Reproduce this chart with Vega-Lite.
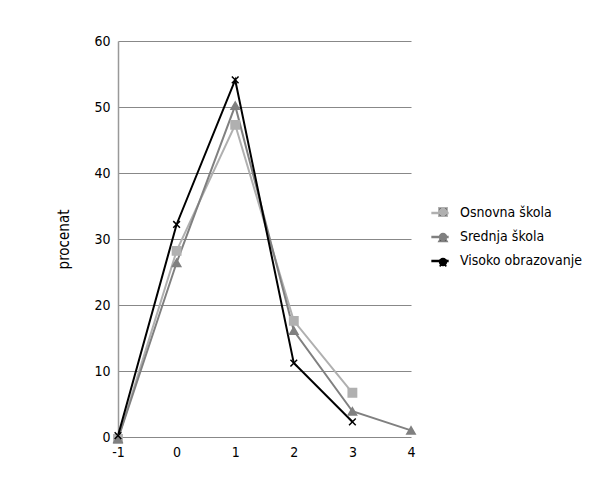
{
  "$schema": "https://vega.github.io/schema/vega-lite/v6.json",
  "width": 293,
  "height": 396,
  "autosize": {"type": "none"},
  "padding": {"left": 118, "top": 41, "right": 202, "bottom": 59},
  "background": "white",
  "config": {
    "view": {"stroke": null},
    "font": "DejaVu Sans Condensed, Liberation Sans, sans-serif",
    "axis": {"labelFont": "DejaVu Sans Condensed, Liberation Sans, sans-serif", "titleFont": "DejaVu Sans Condensed, Liberation Sans, sans-serif", "labelColor": "#000", "titleColor": "#000"},
    "legend": {"labelFont": "DejaVu Sans Condensed, Liberation Sans, sans-serif", "labelColor": "#000"}
  },
  "data": {
    "values": [
      {"x": -1, "procenat": -0.3, "grupa": "Osnovna škola"},
      {"x": 0, "procenat": 28.2, "grupa": "Osnovna škola"},
      {"x": 1, "procenat": 47.3, "grupa": "Osnovna škola"},
      {"x": 2, "procenat": 17.6, "grupa": "Osnovna škola"},
      {"x": 3, "procenat": 6.7, "grupa": "Osnovna škola"},
      {"x": -1, "procenat": -0.3, "grupa": "Srednja škola"},
      {"x": 0, "procenat": 26.4, "grupa": "Srednja škola"},
      {"x": 1, "procenat": 50.2, "grupa": "Srednja škola"},
      {"x": 2, "procenat": 16.1, "grupa": "Srednja škola"},
      {"x": 3, "procenat": 3.9, "grupa": "Srednja škola"},
      {"x": 4, "procenat": 1.0, "grupa": "Srednja škola"},
      {"x": -1, "procenat": 0.2, "grupa": "Visoko obrazovanje"},
      {"x": 0, "procenat": 32.2, "grupa": "Visoko obrazovanje"},
      {"x": 1, "procenat": 54.1, "grupa": "Visoko obrazovanje"},
      {"x": 2, "procenat": 11.2, "grupa": "Visoko obrazovanje"},
      {"x": 3, "procenat": 2.3, "grupa": "Visoko obrazovanje"}
    ]
  },
  "encoding": {
    "x": {
      "field": "x", "type": "quantitative",
      "scale": {"domain": [-1, 4], "nice": false, "zero": false},
      "axis": {"title": null, "values": [-1, 0, 1, 2, 3, 4], "labelExpr": "'' + datum.value", "domain": false, "ticks": false, "grid": false, "labelFontSize": 14, "labelPadding": 8, "labelFlush": false}
    },
    "y": {
      "field": "procenat", "type": "quantitative",
      "scale": {"domain": [0, 60], "nice": false},
      "axis": {"title": "procenat", "values": [0, 10, 20, 30, 40, 50, 60], "domain": true, "domainColor": "#999", "domainWidth": 1.5, "ticks": false, "grid": true, "gridColor": "#888", "gridWidth": 1.2, "labelFontSize": 14, "labelPadding": 8, "titleFontSize": 15, "titleFontWeight": "normal", "titlePadding": 22}
    }
  },
  "layer": [
    {
      "mark": {"type": "line", "strokeWidth": 2, "clip": false},
      "encoding": {
        "color": {
          "field": "grupa", "type": "nominal",
          "scale": {"domain": ["Osnovna škola", "Srednja škola", "Visoko obrazovanje"], "range": ["#b0b0b0", "#808080", "#000000"]},
          "legend": {"title": null, "orient": "none", "legendX": 312, "legendY": 162, "symbolType": "stroke", "symbolSize": 300, "symbolStrokeWidth": 2.5, "labelFontSize": 14, "rowPadding": 7, "labelOffset": 10}
        }
      }
    },
    {
      "mark": {"type": "point", "filled": true, "size": 70, "strokeWidth": 1.5, "opacity": 1, "clip": false},
      "encoding": {
        "color": {
          "field": "grupa", "type": "nominal",
          "scale": {"domain": ["Osnovna škola", "Srednja škola", "Visoko obrazovanje"], "range": ["#b0b0b0", "#808080", "#000000"]},
          "legend": {"title": null, "orient": "none", "legendX": 318, "legendY": 164, "symbolSize": 70, "symbolStrokeWidth": 1.5, "symbolOpacity": 1, "labelFontSize": 14, "rowPadding": 11, "labelOffset": 10, "labelExpr": "' '"}
        },
        "stroke": {
          "field": "grupa", "type": "nominal",
          "scale": {"domain": ["Osnovna škola", "Srednja škola", "Visoko obrazovanje"], "range": ["#b0b0b0", "#808080", "#000000"]},
          "legend": {"title": null, "orient": "none", "legendX": 318, "legendY": 164, "symbolSize": 70, "symbolStrokeWidth": 1.5, "symbolOpacity": 1, "labelFontSize": 14, "rowPadding": 11, "labelOffset": 10, "labelExpr": "' '"}
        },
        "shape": {
          "field": "grupa", "type": "nominal",
          "scale": {"domain": ["Osnovna škola", "Srednja škola", "Visoko obrazovanje"], "range": ["square", "triangle-up", "M-0.8,-0.8L0.8,0.8M-0.8,0.8L0.8,-0.8"]},
          "legend": {"title": null, "orient": "none", "legendX": 318, "legendY": 164, "symbolSize": 70, "symbolStrokeWidth": 1.5, "symbolOpacity": 1, "labelFontSize": 14, "rowPadding": 11, "labelOffset": 10, "labelExpr": "' '"}
        }
      }
    }
  ],
  "resolve": {"legend": {"color": "independent"}}
}
